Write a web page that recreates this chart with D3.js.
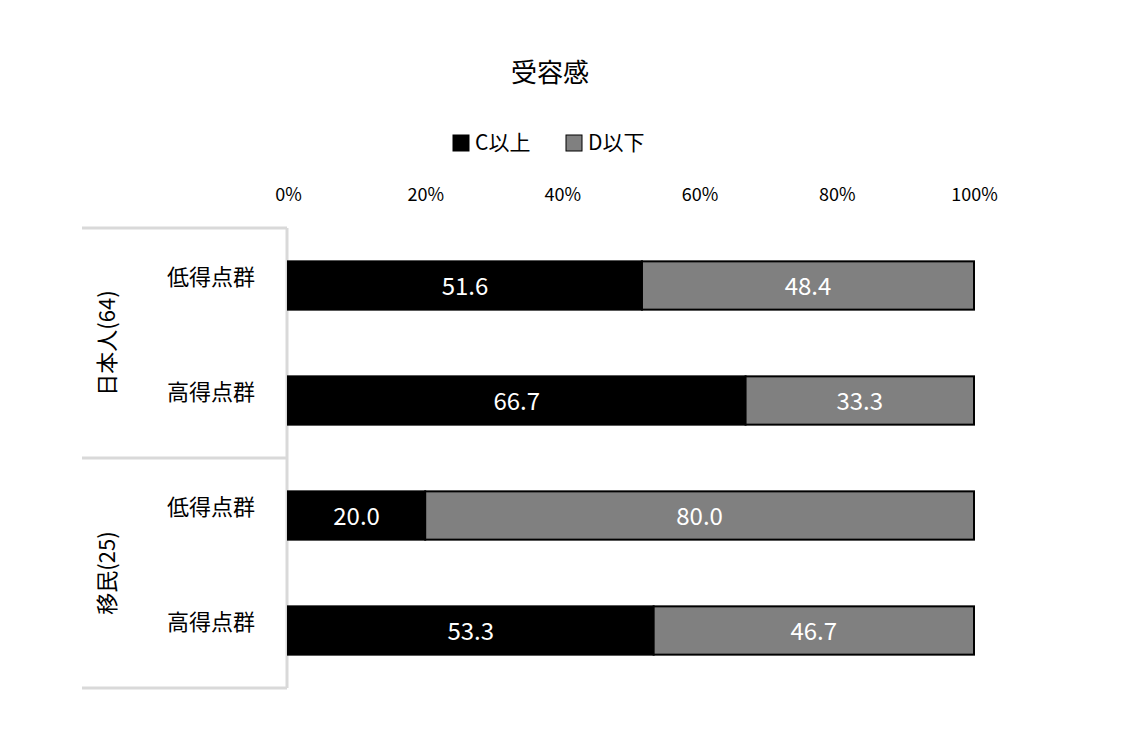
<!DOCTYPE html>
<html><head><meta charset="utf-8">
<script src="https://cdn.jsdelivr.net/npm/d3@7"></script>
<style>body{margin:0;background:#fff}text{font-family:"Noto Sans CJK JP","Noto Sans",sans-serif}</style>
</head><body><svg id="c" width="1128" height="733"></svg>
<script>
const rowLabels = ["低得点群","高得点群","低得点群","高得点群"];
const groups = [{name:"日本人(64)",rows:[0,1]},{name:"移民(25)",rows:[2,3]}];
const seriesNames = ["C以上","D以下"];
const cValues = [51.6,66.7,20.0,53.3];
const dValues = [48.4,33.3,80.0,46.7];
const ticks = [0,20,40,60,80,100];
const colors = ["#000000","#808080"];

const svg = d3.select("#c");
const x = d3.scaleLinear().domain([0,100]).range([288,974]);
const y = d3.scaleBand().domain(d3.range(4)).range([228,688]).paddingInner(0.58).paddingOuter(0.29);

svg.append("text").attr("x",550).attr("y",82).attr("text-anchor","middle").attr("font-size",26).text("受容感");

const leg = [{x:453,t:seriesNames[0],c:colors[0]},{x:566,t:seriesNames[1],c:colors[1]}];
leg.forEach(l=>{
  svg.append("rect").attr("x",l.x).attr("y",135).attr("width",16).attr("height",16).attr("fill",l.c).attr("stroke","#000").attr("stroke-width",1);
  svg.append("text").attr("x",l.x+22).attr("y",150).attr("font-size",21).text(l.t);
});

const ax = svg.append("g").attr("transform","translate(0,201)")
  .call(d3.axisTop(x).tickValues(ticks).tickFormat(d=>d+"%").tickSize(0).tickPadding(0));
ax.select(".domain").remove();
ax.selectAll("text").attr("font-size",18).attr("font-family","Noto Sans CJK JP");

const g = svg.append("g").attr("stroke","#d9d9d9").attr("stroke-width",3);
[228,458,688].forEach(yy=>g.append("line").attr("x1",82).attr("x2",287).attr("y1",yy).attr("y2",yy));
g.append("line").attr("x1",287).attr("x2",287).attr("y1",228).attr("y2",688);

groups.forEach((gr,i)=>{
  const cy=(228+i*230)+115;
  svg.append("text").attr("transform",`translate(115,${cy}) rotate(-90)`).attr("text-anchor","middle")
    .attr("font-size",22).text(gr.name);
});

rowLabels.forEach((t,i)=>{
  svg.append("text").attr("x",211).attr("y",y(i)+y.bandwidth()/2-1).attr("text-anchor","middle").attr("font-size",22).text(t);
  const segs=[{a:0,b:cValues[i],c:colors[0]},{a:cValues[i],b:100,c:colors[1]}];
  segs.forEach(s=>{
    svg.append("rect").attr("x",x(s.a)).attr("y",y(i)).attr("width",x(s.b)-x(s.a)).attr("height",y.bandwidth())
      .attr("fill",s.c).attr("stroke","#000").attr("stroke-width",2);
    svg.append("text").attr("x",(x(s.a)+x(s.b))/2).attr("y",y(i)+y.bandwidth()/2+9).attr("text-anchor","middle")
      .attr("fill","#fff").attr("font-size",24).text((s.b-s.a).toFixed(1));
  });
});
</script></body></html>
